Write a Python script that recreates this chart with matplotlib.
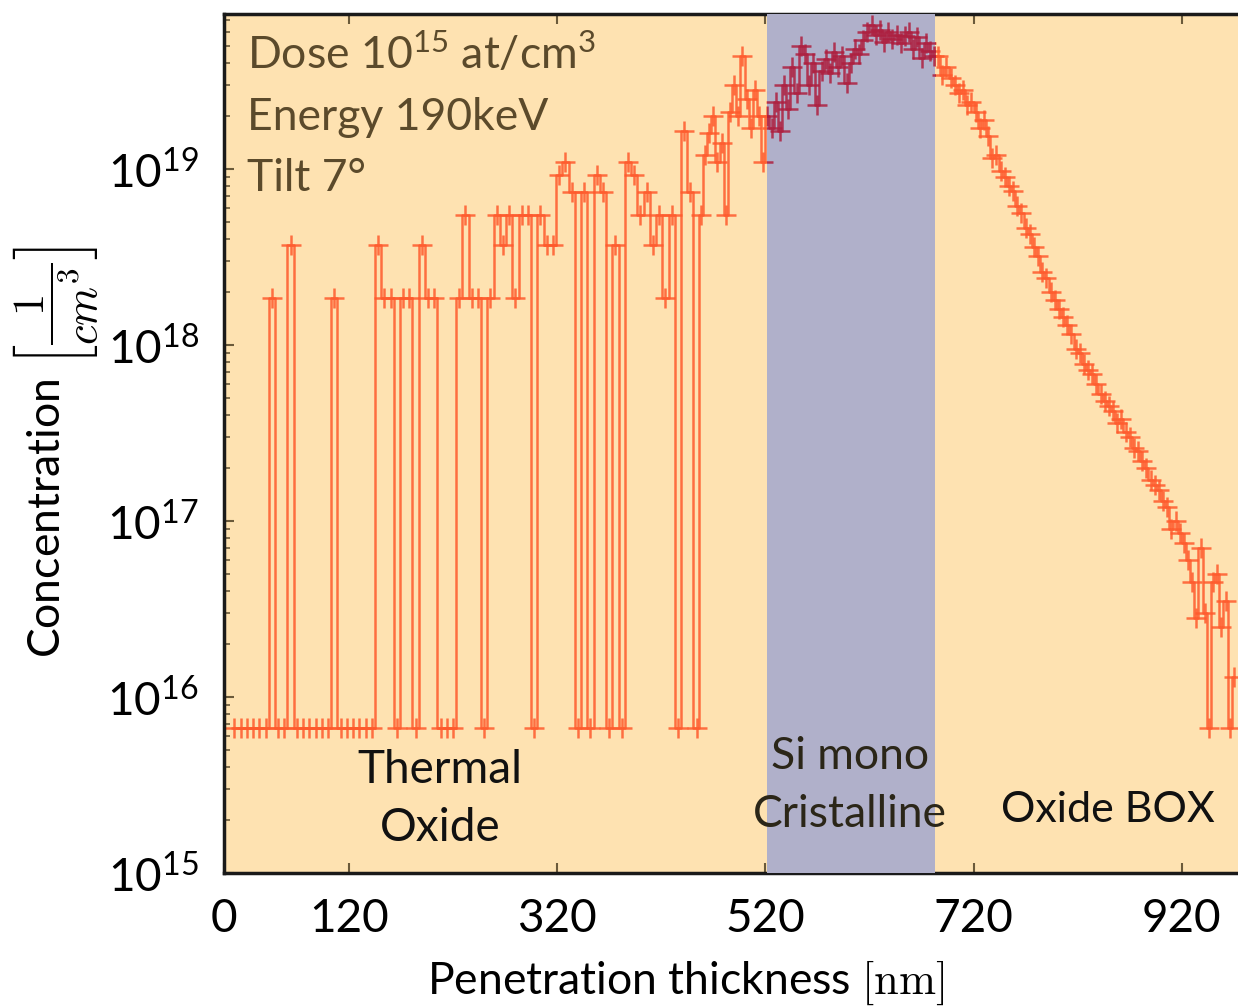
import numpy as np
import matplotlib
matplotlib.use("Agg")
from matplotlib import pyplot as plt
from matplotlib.ticker import LogLocator, NullFormatter

# depth in nm and concentration in units of 1e18 /cm^3
# (0.0067 is where the empty bins are drawn, at the bottom of the profile)
depth_nm = [10, 16, 22, 28, 34, 40, 46, 52, 58, 64, 70, 76, 82, 88, 94, 100,
            106, 112, 118, 124, 130, 136, 142, 148, 154, 160, 166, 172, 178, 184,
            190, 196, 202, 208, 214, 220, 226, 232, 238, 244, 250, 256, 262, 268,
            274, 280, 286, 292, 298, 304, 310, 316, 322, 328, 334, 340, 346, 352,
            358, 364, 370, 376, 382,
            388, 394, 400, 406, 412, 418, 424, 430, 436, 442, 448, 454, 458, 462,
            466, 470, 474, 478, 482, 486, 490, 494, 498, 502, 506, 510, 514, 518,
            522,
            526, 530, 534, 538, 542, 546, 550, 554, 558, 562, 566, 570, 574, 578,
            582, 586, 590, 594, 598, 602, 606, 610, 614, 618, 622, 626, 630, 634,
            638, 642, 646, 650, 654, 658, 662, 666, 670, 674, 678, 682,
            686, 690, 694, 698, 702, 706, 710, 714, 718, 722, 726, 730, 734, 738,
            742, 746, 750, 754, 758, 762, 766, 770, 774, 778, 782, 786, 790, 794,
            798, 802, 806, 810, 814, 818, 822, 826, 830, 834, 838, 842, 846, 850,
            854, 858, 862, 866, 870, 874, 878, 882, 886, 890, 894, 898, 902, 906,
            910, 914, 918, 922, 926, 930, 934, 938, 942, 946, 950, 954, 958, 962,
            966, 970]
conc_1e18 = [0.0067, 0.0067, 0.0067, 0.0067, 0.0067, 0.0067, 1.85, 0.0067, 0.0067,
             3.7, 0.0067, 0.0067, 0.0067, 0.0067, 0.0067, 0.0067,
             1.85, 0.0067, 0.0067, 0.0067, 0.0067, 0.0067, 0.0067, 3.7, 1.85, 1.85,
             0.0067, 1.85, 1.85, 0.0067,
             3.7, 1.85, 1.85, 0.0067, 0.0067, 0.0067, 1.85, 5.5, 1.85, 1.85, 0.0067,
             1.85, 5.5, 3.7,
             5.5, 1.85, 5.5, 5.5, 0.0067, 5.5, 3.7, 3.7, 9.2, 11, 7.4, 0.0067, 7.4,
             0.0067, 9.2, 7.4, 0.0067, 3.7, 0.0067,
             11, 9.2, 5.5, 7.4, 3.7, 5.5, 1.85, 5.5, 0.0067, 16.5, 7.4, 0.0067, 5.5,
             12, 16, 20, 11, 14, 5.5, 21, 30, 20, 44, 25, 17, 28, 20, 11,
             20,
             17, 24, 16.5, 30, 22, 38, 27, 50, 45, 30, 40, 23, 36, 42,
             35, 46, 38, 44, 31, 40, 48, 45, 54, 60, 66, 58, 62, 53,
             60, 55, 58, 52, 57, 60, 48, 56, 43, 52, 47, 44,
             44, 34, 38, 33, 30, 27, 28, 23, 24, 21, 17, 19, 15.5, 11.5,
             12, 9.8, 9, 8, 7.5, 6.2, 5.6, 4.6, 4.3, 3.6, 3.2, 2.6, 2.4, 2.0,
             1.8, 1.6, 1.45, 1.3, 1.15, 0.95, 0.9, 0.78, 0.72, 0.68, 0.6, 0.53,
             0.48, 0.45,
             0.42, 0.36, 0.38, 0.32, 0.3, 0.26, 0.25, 0.22, 0.2, 0.17, 0.16, 0.15,
             0.13, 0.12,
             0.09, 0.1, 0.085, 0.075, 0.06, 0.045, 0.028, 0.07, 0.03, 0.0067, 0.045,
             0.05, 0.025, 0.035,
             0.0067, 0.013]

si_layer = (522, 683)  # Si mono-crystalline layer [nm]
x_ticks = [0, 120, 320, 520, 720, 920]
y_ticks = [1e15, 1e16, 1e17, 1e18, 1e19]
y_tick_labels = [r'$\mathregular{10^{%d}}$' % e for e in range(15, 20)]

plt.rcParams['font.family'] = ['Lato', 'DejaVu Sans']
plt.rcParams['mathtext.fontset'] = 'cm'

olive = '#5b4a2b'
conc = np.array(conc_1e18) * 1e18
style = dict(lw=1.8, marker='+', ms=14, mew=1.8, alpha=0.85,
             drawstyle='steps-mid')

fig = plt.figure(figsize=(12.38, 10.07), dpi=100)
ax = fig.add_axes([0.1809, 0.1331, 0.8191, 0.853])
ax.set_facecolor('#fee2b1')

ax.plot(depth_nm, conc, color='#ff5a2c', zorder=2, **style)
band = ax.axvspan(si_layer[0], si_layer[1], color='#b0b0ca', lw=0, zorder=3)
# same profile again, darker, only inside the Si layer
inner, = ax.plot(depth_nm, conc, color='#ad1f3f', zorder=4, **style)
inner.set_clip_path(band)

ax.set_yscale('log')
ax.set_xlim(0, 974)
ax.set_ylim(1e15, 7.6e19)
ax.set_xticks(x_ticks)
ax.set_yticks(y_ticks, y_tick_labels)
ax.yaxis.set_minor_locator(LogLocator(subs=np.arange(2, 10)))
ax.yaxis.set_minor_formatter(NullFormatter())

ax.tick_params(which='both', direction='in', top=True, right=False,
               color='#6b5a3a', labelsize=33, pad=18)
ax.tick_params(which='major', length=7, width=1.5)
ax.tick_params(which='minor', length=4, width=1.2)
for side in ['left', 'bottom', 'top']:
    ax.spines[side].set_linewidth(2.5)
    ax.spines[side].set_color('#1a1a1a')
ax.spines['right'].set_visible(False)

ax.set_xlabel(r'Penetration thickness $[\mathrm{nm}]$', fontsize=32, va='center')
ax.xaxis.set_label_coords(0.4556, -0.128)
ax.set_ylabel(r'Concentration $\left[\dfrac{1}{cm^3}\right]$', fontsize=32,
              va='center')
ax.yaxis.set_label_coords(-0.166, 0.49)

# implant conditions
ax.text(0.0227, 0.952, r'Dose $\mathregular{10^{15}}$ at/cm$\mathregular{^3}$',
        transform=ax.transAxes, fontsize=32, color=olive, va='center')
ax.text(0.0227, 0.880, 'Energy 190keV', transform=ax.transAxes, fontsize=32,
        color=olive, va='center')
ax.text(0.0227, 0.809, 'Tilt 7°', transform=ax.transAxes, fontsize=32,
        color=olive, va='center')

# layer names
ax.text(0.213, 0.086, 'Thermal\nOxide', transform=ax.transAxes, fontsize=33,
        ha='center', va='center', linespacing=1.45, color='#111111', zorder=5)
ax.text(0.617, 0.102, 'Si mono\nCristalline', transform=ax.transAxes,
        fontsize=32, ha='center', va='center', linespacing=1.5,
        color='#2b2618', zorder=5)
ax.text(0.872, 0.0733, 'Oxide BOX', transform=ax.transAxes, fontsize=31,
        ha='center', va='center', color='#111111', zorder=5)

fig.savefig('out.png', dpi=100)
